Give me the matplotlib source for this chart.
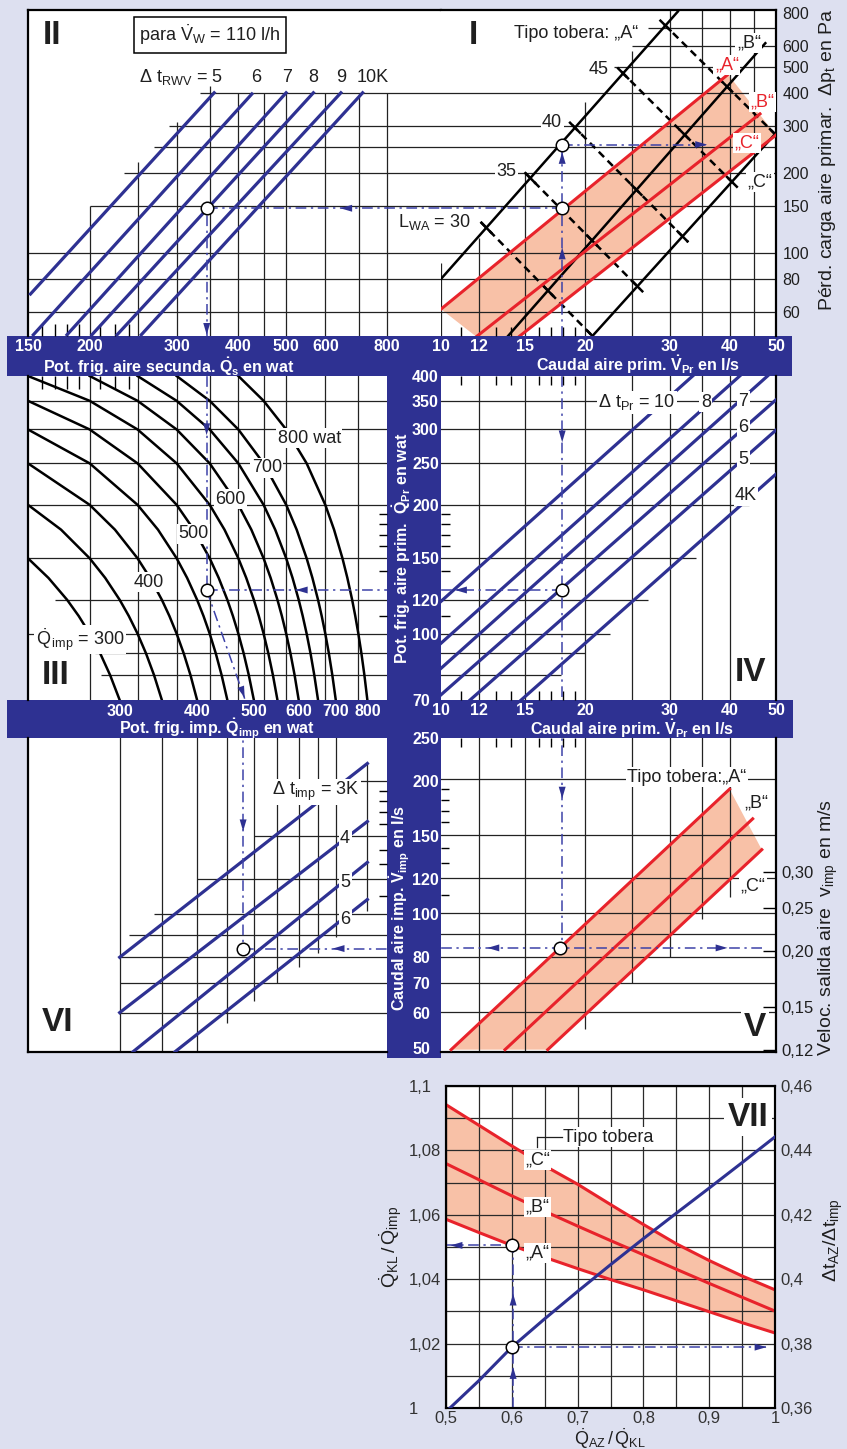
import numpy as np
import matplotlib
matplotlib.use('Agg')
import matplotlib.pyplot as plt
from matplotlib.patches import Rectangle, Polygon
from matplotlib.ticker import NullFormatter

plt.rcParams['font.family'] = ['Liberation Sans', 'DejaVu Sans']
plt.rcParams['mathtext.fontset'] = 'custom'
plt.rcParams['mathtext.rm'] = 'Liberation Sans'
plt.rcParams['mathtext.it'] = 'Liberation Sans:italic'
plt.rcParams['mathtext.bf'] = 'Liberation Sans:bold'
plt.rcParams['mathtext.default'] = 'regular'

W, H = 847, 1449
BG = '#dde0f0'
NAVY = '#2e3192'
RED = '#e8232b'
SALMON = '#f8c1a7'
DD = '#3d42a8'
INK = '#1f1f1f'
GRID = '#222222'

# ---------------- values ----------------
qs_ticks = [150, 200, 300, 400, 500, 600, 800]
qs_minor = [160, 170, 180, 190, 210, 225, 240]
v_ticks = [10, 12, 15, 20, 30, 40, 50]
v_minor = [11, 13, 14, 16, 17, 18, 19]
dp_ticks = [60, 80, 100, 150, 200, 300, 400, 500, 600, 800]
qpr_ticks = [70, 100, 120, 150, 200, 250, 300, 350, 400]
qpr_minor = [110, 140, 160, 170, 180, 190]
qimp_ticks = [300, 400, 500, 600, 700, 800]
vimp_ticks = [50, 60, 70, 80, 100, 120, 150, 200, 250]
vimp_minor = [110, 130, 140, 160, 170, 180, 190]
vel_ticks = [0.12, 0.15, 0.20, 0.25, 0.30]
vel_labels = ['0,12', '0,15', '0,20', '0,25', '0,30']

# II  dt_RWV lines: Qs [W] vs dp [Pa]
rwv_names = ['5', '6', '7', '8', '9', '10K']
rwv_qs = [(151, 359), (153, 428), (179, 502), (201, 570), (226, 648), (253, 717)]
rwv_dp = [(69.5, 405), (48.8, 401), (48.8, 405), (48.8, 405), (48.8, 405), (48.8, 405)]

# I  nozzle types: V_Pr [l/s] vs dp [Pa]
tob_v = [(10, 31.2), (13.8, 47.5), (20.7, 50)]
tob_dp = [(80, 810), (48.8, 616), (48.8, 283)]
tobr_v = [(10, 39.7), (11.9, 46.3), (14.6, 50)]
tobr_dp = [(61.6, 470), (48.8, 334), (48.8, 278)]
band1_v = [10, 39.7, 50, 14.6, 11.8]
band1_dp = [61.6, 470, 278, 48.8, 48.8]
lwa_v = [(29.2, 50), (23.8, 41.0), (18.8, 32.8), (15.0, 26.0), (12.1, 20.7)]
lwa_dp = [(726, 278), (481, 181), (303, 110), (200, 73.4), (131, 48.8)]

# III  Q_imp curves: Qs read at each Q_Pr row
qpr_rows = [400, 350, 300, 250, 200, 175, 150, 135, 120, 110, 100, 90, 80, 70]
qimp_levels = [300, 350, 400, 450, 500, 550, 600, 650, 700, 800]
qimp_qs = [
    [None, None, None, None, None, None, 150, 165, 180, 190, 200, 210, 220, 230],
    [None, None, None, None, 150, 175, 200, 215, 230, 240, 250, 260, 270, 280],
    [None, None, None, 150, 200, 225, 250, 265, 280, 290, 300, 310, 320, 330],
    [None, None, 150, 200, 250, 275, 300, 315, 330, 340, 350, 360, 370, 380],
    [None, 150, 200, 250, 300, 325, 350, 365, 380, 390, 400, 410, 420, 430],
    [150, 200, 250, 300, 350, 375, 400, 415, 430, 440, 450, 460, 470, 480],
    [200, 250, 300, 350, 400, 425, 450, 465, 480, 490, 500, 510, 520, 530],
    [250, 300, 350, 400, 450, 475, 500, 515, 530, 540, 550, 560, 570, 580],
    [300, 350, 400, 450, 500, 525, 550, 565, 580, 590, 600, 610, 620, 630],
    [400, 450, 500, 550, 600, 625, 650, 665, 680, 690, 700, 710, 720, 730],
]

# IV  dt_Pr lines: V_Pr vs Q_Pr
dtpr_names = ['10', '8', '7', '6', '5', '4K']
dtpr_v = [(10, 33.5), (10, 42), (10, 48), (10, 50), (11.5, 50), (14.7, 50)]
dtpr_q = [(119, 400), (95, 400), (83, 400), (72, 352), (70, 299), (70, 236)]

# V  nozzle types: V_Pr vs V_imp
tobv_v = [(10.5, 40), (13.6, 44.7), (16.7, 46.7)]
tobv_vimp = [(49.5, 190), (49.5, 163), (49.5, 139)]
band5_v = [10.5, 40, 46.7, 16.7]
band5_vimp = [49.5, 190, 139, 49.5]

# VI  dt_imp lines: Q_imp vs V_imp
dtimp_names = ['3K', '4', '5', '6']
dtimp_q = [(300, 800), (300, 800), (315, 800), (368, 800)]
dtimp_vimp = [(80, 219), (60, 162), (49, 131), (49, 108)]

# VII
ratio = [0.5, 0.55, 0.6, 0.65, 0.7, 0.75, 0.8, 0.85, 0.9, 0.95, 1.0]
qkl_a = [1.0586, 1.0545, 1.0505, 1.0468, 1.0433, 1.0399, 1.0367, 1.0333, 1.0299, 1.0265, 1.0233]
qkl_b = [1.0759, 1.0709, 1.0659, 1.0611, 1.0565, 1.0520, 1.0476, 1.0431, 1.0387, 1.0344, 1.0301]
qkl_c = [1.0942, 1.0878, 1.0814, 1.0752, 1.0695, 1.0632, 1.0570, 1.0510, 1.0458, 1.0410, 1.0367]
dtr_x = [0.506, 0.55, 0.6, 0.65, 0.7, 0.75, 0.8, 0.85, 0.9, 0.95, 1.0]
dtr = [0.36, 0.3685, 0.3789, 0.3877, 0.3962, 0.4045, 0.4126, 0.4205, 0.4283, 0.4362, 0.4442]

# worked example
ex_qs, ex_dp_a, ex_dp_b = 345, 147.5, 256
ex_v, ex_qpr, ex_qimp, ex_vimp = 17.9, 126.5, 479, 83.7
ex_ratio, ex_qkl, ex_dtr = 0.6, 1.0505, 0.3789

# partial grid lines (value, from, to)
grid_II_h = [(400, 335, 1100), (300, 290, 1100), (250, 270, 1100), (200, 235, 1100),
             (150, 200, 1100), (100, 140, 1100), (80, 140, 1100), (60, 140, 1100)]
grid_II_v = [(200, 40, 150), (250, 40, 220), (300, 40, 312), (350, 40, 425), (400, 40, 400),
             (450, 40, 400), (500, 40, 400), (600, 40, 400), (700, 40, 400), (800, 40, 400)]
grid_I_h = [(700, 27, 60), (600, 25, 60), (500, 23, 60), (400, 9, 60), (300, 9, 60), (250, 9, 60),
            (200, 9, 60), (150, 9, 60), (100, 9, 60), (80, 9, 60), (60, 9, 60)]
grid_I_v = [(10.02, 40, 92), (12, 40, 114), (15, 40, 200), (20, 40, 370), (25, 40, 575),
            (30, 40, 900), (35, 40, 900), (40, 40, 900), (45, 40, 900)]
grid_III_h = [(350, 140, 900), (300, 140, 900), (250, 140, 900), (200, 140, 900), (150, 140, 900),
              (120, 170, 900), (100, 140, 900), (90, 205, 900), (80, 211, 900)]
grid_III_v = [200, 250, 300, 350, 400, 450, 500, 600, 700]
grid_IV_h = [(350, 9, 60), (300, 9, 60), (250, 9, 60), (200, 9, 44), (150, 9, 34),
             (120, 9, 27), (100, 9, 22.5), (90, 9, 20), (80, 9, 17.8)]
grid_IV_v = [12, 15, 20, 25, 30, 35, 40]
grid_V_h = [200, 150, 120, 100, 90, 80, 70, 60]
grid_V_v = [(12, 40, 300), (15, 40, 300), (20, 55, 300), (25, 70, 300), (30, 80, 300),
            (35, 97, 300), (40, 109, 300)]
grid_VI_h = [(200, 670, 900), (150, 500, 900), (120, 400, 900), (100, 340, 900), (90, 310, 900),
             (80, 300, 900), (70, 300, 900), (60, 300, 900)]
grid_VI_v = [(300, 40, 300), (350, 40, 300), (400, 40, 300), (450, 57, 300), (500, 63.7, 300),
             (550, 70, 300), (600, 76, 300), (650, 82, 300), (700, 89, 300), (800, 102, 219)]

# ---------------- drawing ----------------
fig = plt.figure(figsize=(W / 100, H / 100), dpi=100)
fig.patch.set_facecolor(BG)


def px_axes(x0, y0, x1, y1):
    return fig.add_axes([x0 / W, 1 - y1 / H, (x1 - x0) / W, (y1 - y0) / H])


def prep(ax, xlim, ylim, spines, xscale='log'):
    if xscale == 'log':
        ax.set_xscale('log')
    ax.set_yscale('log')
    ax.set_xlim(*xlim)
    ax.set_ylim(*ylim)
    ax.set_facecolor('white')
    for k, s in ax.spines.items():
        s.set_visible(k in spines)
        s.set_linewidth(1.6)
        s.set_color('black')
    ax.set_xticks([])
    ax.set_xticks([], minor=True)
    ax.set_yticks([])
    ax.set_yticks([], minor=True)
    ax.xaxis.set_minor_formatter(NullFormatter())
    ax.yaxis.set_minor_formatter(NullFormatter())
    ax.tick_params(which='both', length=0)


def hgrid(ax, rows):
    for y, x0, x1 in rows:
        ax.hlines(y, x0, x1, colors=GRID, lw=0.9, zorder=1.5)


def vgrid(ax, cols):
    for x, y0, y1 in cols:
        ax.vlines(x, y0, y1, colors=GRID, lw=0.9, zorder=1.5)


def dd(ax, xs, ys):
    ax.plot(xs, ys, color=DD, lw=1.1, ls=(0, (7, 3, 1.5, 3)), zorder=4)


def arrow(ax, tip, off):
    ax.annotate('', xy=tip, xytext=off, textcoords='offset points',
                arrowprops=dict(arrowstyle='-|>,head_length=0.85,head_width=0.25',
                                mutation_scale=10, color=NAVY, lw=0,
                                shrinkA=0, shrinkB=0), zorder=5)


def circ(ax, x, y):
    ax.plot([x], [y], 'o', ms=9, mfc='white', mec='black', mew=1.1, zorder=6)


def lab(ax, x, y, s, size=13, color=INK, ha='center', box=True, **kw):
    bb = dict(boxstyle='square,pad=0.08', fc='white', ec='none') if box else None
    ax.text(x, y, s, fontsize=size, color=color, ha=ha, va='center', bbox=bb,
            zorder=5, **kw)


def roman(ax, x, y, s, box=False):
    bb = dict(boxstyle='square,pad=0.1', fc='white', ec='none') if box else None
    ax.text(x, y, s, fontsize=24, fontweight='bold', color=INK, ha='center',
            va='center', bbox=bb, zorder=5)


def crossing_ticks(ax, dashed_v, dashed_dp, solid_v, solid_dp, half=7):
    # short solid strokes where a dashed L_WA line meets a nozzle line
    for (a0, a1), (b0, b1) in zip(dashed_v, dashed_dp):
        p0 = np.log10([a0, b0]); p1 = np.log10([a1, b1])
        for (c0, c1), (e0, e1) in zip(solid_v, solid_dp):
            q0 = np.log10([c0, e0]); q1 = np.log10([c1, e1])
            m = np.column_stack([p1 - p0, -(q1 - q0)])
            if abs(np.linalg.det(m)) < 1e-12:
                continue
            t, s = np.linalg.solve(m, q0 - p0)
            if -0.03 <= t <= 1.03 and -0.03 <= s <= 1.03:
                cx = 10 ** (p0 + t * (p1 - p0))
                d0 = ax.transData.transform((a0, b0))
                d1 = ax.transData.transform((a1, b1))
                u = (d1 - d0) / np.hypot(*(d1 - d0))
                c = ax.transData.transform(cx)
                ends = ax.transData.inverted().transform([c - u * half, c + u * half])
                ax.plot(ends[:, 0], ends[:, 1], color='black', lw=1.8, zorder=2.6)


white_bold = dict(color='white', fontweight='bold', fontsize=11.5)

# navy bars
for x0, y0, x1, y1 in [(7, 336, 792, 376), (7, 700, 793, 738), (387, 336, 441, 1058)]:
    fig.add_artist(Rectangle((x0 / W, 1 - y1 / H), (x1 - x0) / W, (y1 - y0) / H,
                             transform=fig.transFigure, fc=NAVY, ec='none', zorder=-1))

# ---- II ----
ax2 = px_axes(28, 10, 441, 336)
prep(ax2, (150, 1028), (48.8, 821), ('top', 'left'))
hgrid(ax2, grid_II_h)
vgrid(ax2, grid_II_v)
ax2.set_xticks(qs_ticks, [str(t) for t in qs_ticks], **white_bold)
ax2.set_xticks(qs_minor, minor=True)
ax2.tick_params(axis='x', which='major', length=0, pad=2)
ax2.tick_params(axis='x', which='minor', direction='in', length=9, width=1, color='black')
for (q0, q1), (d0, d1) in zip(rwv_qs, rwv_dp):
    ax2.plot([q0, q1], [d0, d1], color=NAVY, lw=2.3, solid_capstyle='butt', zorder=3)
ax2.text(372, 459, 'Δ t$_{RWV}$ = 5', fontsize=13, color=INK, ha='right', va='center')
for name, q in zip(rwv_names[1:], [434, 501, 566, 647, 748]):
    ax2.text(q, 459, name, fontsize=13, color=INK, ha='center', va='center')
roman(ax2, 168, 661, 'II')
ax2.text(350, 661, 'para $\\dot{V}_W$ = 110 l/h', fontsize=13, color=INK, ha='center', va='center',
         bbox=dict(boxstyle='square,pad=0.3', fc='white', ec='black', lw=1.1))
dd(ax2, [ex_qs, 1100], [ex_dp_a, ex_dp_a])
dd(ax2, [ex_qs, ex_qs], [40, ex_dp_a])
circ(ax2, ex_qs, ex_dp_a)
arrow(ax2, (643, ex_dp_a), (9, 0))
arrow(ax2, (ex_qs, 49.3), (0, 9))

# ---- I ----
ax1 = px_axes(441, 10, 776, 336)
prep(ax1, (10, 50), (48.8, 821), ('top', 'right'))
ax1.add_patch(Polygon(list(zip(band1_v, band1_dp)), closed=True, fc=SALMON, ec='none', zorder=1))
hgrid(ax1, grid_I_h)
vgrid(ax1, grid_I_v)
ax1.set_xticks(v_ticks, [str(t) for t in v_ticks], **white_bold)
ax1.set_xticks(v_minor, minor=True)
ax1.tick_params(axis='x', which='major', length=0, pad=2)
ax1.tick_params(axis='x', which='minor', direction='in', length=6.5, width=1, color='black')
ax1.yaxis.tick_right()
ax1.set_yticks(dp_ticks, [str(t) for t in dp_ticks], fontsize=11.5, color=INK)
ax1.tick_params(axis='y', which='major', length=0, pad=4.5)
for (v0, v1), (d0, d1) in zip(lwa_v, lwa_dp):
    ax1.plot([v0, v1], [d0, d1], color='black', lw=1.8, ls=(0, (3, 2)), zorder=2.5)
for (v0, v1), (d0, d1) in zip(tob_v, tob_dp):
    ax1.plot([v0, v1], [d0, d1], color='black', lw=1.8, zorder=2.6)
crossing_ticks(ax1, lwa_v, lwa_dp, tob_v, tob_dp)
for (v0, v1), (d0, d1) in zip(tobr_v, tobr_dp):
    ax1.plot([v0, v1], [d0, d1], color=RED, lw=2.2, zorder=2.7)
roman(ax1, 11.7, 660, 'I')
lab(ax1, 19.1, 672, 'Tipo tobera: „A“')
lab(ax1, 43.9, 617, '„B“')
lab(ax1, 46.3, 185, '„C“')
lab(ax1, 39.5, 509, '„A“', color=RED)
lab(ax1, 46.9, 371, '„B“', color=RED)
lab(ax1, 43.5, 260, '„C“', color=RED)
lab(ax1, 21.3, 489, '45')
lab(ax1, 17.05, 309, '40')
lab(ax1, 13.67, 202, '35')
lab(ax1, 9.71, 131, 'L$_{WA}$ = 30', clip_on=False)
dd(ax1, [9, ex_v], [ex_dp_a, ex_dp_a])
dd(ax1, [ex_v, ex_v], [40, ex_dp_b])
dd(ax1, [ex_v, 35.9], [ex_dp_b, ex_dp_b])
circ(ax1, ex_v, ex_dp_a)
circ(ax1, ex_v, ex_dp_b)
arrow(ax1, (ex_v, 105), (0, -9))
arrow(ax1, (ex_v, 240), (0, -9))
arrow(ax1, (35.9, ex_dp_b), (-9, 0))

# ---- III ----
ax3 = px_axes(28, 376, 387, 700)
prep(ax3, (150, 800), (70, 400), ('left',))
hgrid(ax3, grid_III_h)
for q in grid_III_v:
    ax3.axvline(q, color=GRID, lw=0.9, zorder=1.5)
ax3.xaxis.set_ticks_position('top')
ax3.set_xticks(qs_minor, minor=True)
ax3.tick_params(axis='x', which='minor', direction='in', length=9, width=1, color='black')
ax3.yaxis.tick_right()
ax3.set_yticks(qpr_ticks, [str(t) for t in qpr_ticks], **white_bold)
ax3.set_yticks(qpr_minor, minor=True)
ax3.tick_params(axis='y', which='major', length=0, pad=18)
ax3.tick_params(axis='y', which='minor', direction='in', length=6, width=1, color='black')
for row in qimp_qs:
    ax3.plot(np.array(row, dtype=float), qpr_rows, color='black', lw=1.8, zorder=3)
lab(ax3, 191, 97, '$\\dot{Q}_{\\,imp}$ = 300')
lab(ax3, 264, 132, '400')
lab(ax3, 325, 171, '500')
lab(ax3, 385, 206, '600')
lab(ax3, 457, 244, '700')
lab(ax3, 557, 286, '800 wat')
roman(ax3, 171, 80, 'III')
dd(ax3, [ex_qs, ex_qs], [450, ex_qpr])
dd(ax3, [ex_qs, 900], [ex_qpr, ex_qpr])
dd(ax3, [ex_qs, 412], [ex_qpr, 70.5])
circ(ax3, ex_qs, ex_qpr)
arrow(ax3, (ex_qs, 291), (0, 9))
arrow(ax3, (523, ex_qpr), (9, 0))
arrow(ax3, (412, 70.8), (-3, 8.5))

# ---- IV ----
ax4 = px_axes(441, 376, 776, 700)
prep(ax4, (10, 50), (70, 400), ('right',))
hgrid(ax4, grid_IV_h)
for v in grid_IV_v:
    ax4.axvline(v, color=GRID, lw=0.9, zorder=1.5)
ax4.set_xticks(v_ticks, [str(t) for t in v_ticks], **white_bold)
ax4.set_xticks(v_minor, minor=True)
ax4.tick_params(axis='x', which='major', length=0, pad=2)
ax4.tick_params(axis='x', which='minor', top=True, bottom=True, direction='in',
                length=6.5, width=1, color='black')
ax4.set_yticks(qpr_minor, minor=True)
ax4.tick_params(axis='y', which='minor', left=True, right=False, direction='in',
                length=6.5, width=1, color='black')
for (v0, v1), (q0, q1) in zip(dtpr_v, dtpr_q):
    ax4.plot([v0, v1], [q0, q1], color=NAVY, lw=2.3, zorder=3)
ax4.text(30.8, 347, 'Δ t$_{Pr}$ = 10', fontsize=13, color=INK, ha='right', va='center',
         bbox=dict(boxstyle='square,pad=0.08', fc='white', ec='none'), zorder=5)
lab(ax4, 35.7, 347, '8')
lab(ax4, 42.7, 349, '7')
lab(ax4, 42.7, 304, '6')
lab(ax4, 42.7, 255, '5')
lab(ax4, 43.3, 210, '4K')
roman(ax4, 44.2, 81, 'IV')
dd(ax4, [ex_v, ex_v], [450, 60])
dd(ax4, [9, ex_v], [ex_qpr, ex_qpr])
circ(ax4, ex_v, ex_qpr)
arrow(ax4, (ex_v, 280), (0, 9))
arrow(ax4, (10.7, ex_qpr), (9, 0))

# ---- VI ----
ax6 = px_axes(28, 738, 387, 1052)
ax6.set_xscale('function', functions=(lambda q: np.log10(np.maximum(np.asarray(q, float) - 70, 1e-6)),
                                       lambda x: 10 ** np.asarray(x, float) + 70))
prep(ax6, (220, 870), (48.9, 247.4), ('left', 'bottom'), xscale='function')
hgrid(ax6, grid_VI_h)
vgrid(ax6, grid_VI_v)
ax6.xaxis.tick_top()
ax6.set_xticks(qimp_ticks, [str(t) for t in qimp_ticks], **white_bold)
ax6.tick_params(axis='x', which='major', length=0, pad=14)
ax6.yaxis.tick_right()
ax6.set_yticks(vimp_ticks, [str(t) for t in vimp_ticks], **white_bold)
ax6.set_yticks(vimp_minor, minor=True)
ax6.tick_params(axis='y', which='major', length=0, pad=18)
ax6.tick_params(axis='y', which='minor', direction='in', length=5.5, width=1, color='black')
for (q0, q1), (w0, w1) in zip(dtimp_q, dtimp_vimp):
    ax6.plot([q0, q1], [w0, w1], color=NAVY, lw=2.3, zorder=3)
lab(ax6, 644, 189, 'Δ t$_{imp}$ = 3K')
lab(ax6, 728, 148, '4')
lab(ax6, 728, 118, '5')
lab(ax6, 728, 97.5, '6')
roman(ax6, 242, 57, 'VI')
dd(ax6, [ex_qimp, ex_qimp], [300, ex_vimp])
dd(ax6, [ex_qimp, 900], [ex_vimp, ex_vimp])
circ(ax6, ex_qimp, ex_vimp)
arrow(ax6, (ex_qimp, 154), (0, 9))
arrow(ax6, (691, ex_vimp), (9, 0))

# ---- V ----
ax5 = px_axes(441, 738, 776, 1052)
prep(ax5, (10, 50), (48.9, 247.4), ('right', 'bottom'))
ax5v = ax5.twinx()
ax5v.set_yscale('log')
ax5v.set_ylim(48.9 / 412, 247.4 / 412)
for s in ax5v.spines.values():
    s.set_visible(False)
ax5v.set_yticks(vel_ticks, vel_labels, fontsize=12, color=INK)
ax5v.set_yticks([], minor=True)
ax5v.yaxis.set_minor_formatter(NullFormatter())
ax5v.tick_params(axis='y', which='major', direction='in', length=9.5, width=1,
                 color='black', pad=4)
ax5.add_patch(Polygon(list(zip(band5_v, band5_vimp)), closed=True, fc=SALMON, ec='none', zorder=1))
for w in grid_V_h:
    ax5.axhline(w, color=GRID, lw=0.9, zorder=1.5)
vgrid(ax5, grid_V_v)
ax5.set_xticks(v_minor, minor=True)
ax5.tick_params(axis='x', which='minor', top=True, bottom=False, direction='in',
                length=6.5, width=1, color='black')
ax5.set_yticks(vimp_minor, minor=True)
ax5.tick_params(axis='y', which='minor', left=True, right=False, direction='in',
                length=6, width=1, color='black')
for (v0, v1), (w0, w1) in zip(tobv_v, tobv_vimp):
    ax5.plot([v0, v1], [w0, w1], color=RED, lw=2.2, zorder=3)
lab(ax5, 32.6, 202, 'Tipo tobera:„A“')
lab(ax5, 45.5, 177, '„B“')
lab(ax5, 44.7, 115, '„C“')
roman(ax5, 45.2, 55.5, 'V', box=True)
dd(ax5, [ex_v, ex_v], [300, ex_vimp])
dd(ax5, [9, 47.4], [ex_vimp, ex_vimp])
circ(ax5, ex_v - 0.15, ex_vimp)
arrow(ax5, (ex_v, 181), (0, 9))
arrow(ax5, (12.5, ex_vimp), (9, 0))
arrow(ax5, (39.6, ex_vimp), (-9, 0))

# ---- VII ----
ax7 = px_axes(446, 1086, 775, 1408)
ax7.set_facecolor('white')
ax7.set_xlim(0.5, 1.0)
ax7.set_ylim(1.0, 1.1)
ax7.set_xticks([0.5, 0.6, 0.7, 0.8, 0.9, 1.0], ['0,5', '0,6', '0,7', '0,8', '0,9', '1'],
               fontsize=12, color='#333333')
ax7.set_xticks([0.55, 0.65, 0.75, 0.85, 0.95], minor=True)
ax7.set_yticks([1.0, 1.02, 1.04, 1.06, 1.08, 1.1], ['1', '1,02', '1,04', '1,06', '1,08', '1,1'],
               fontsize=12, color='#333333')
ax7.set_yticks([1.01, 1.03, 1.05, 1.07, 1.09], minor=True)
for t in ax7.get_yticklabels():
    t.set_ha('left')
ax7.tick_params(which='both', length=0)
ax7.tick_params(axis='y', pad=27)
ax7.tick_params(axis='x', pad=2.5)
ax7.grid(which='both', color='#2a2a2a', lw=0.9)
for s in ax7.spines.values():
    s.set_linewidth(1.5)
ax7.fill_between(ratio, qkl_a, qkl_c, color=SALMON, lw=0, zorder=1)
for vals in (qkl_a, qkl_b, qkl_c):
    ax7.plot(ratio, vals, color=RED, lw=2.2, zorder=3)
lab(ax7, 0.639, 1.0769, '„C“')
lab(ax7, 0.639, 1.0623, '„B“')
lab(ax7, 0.639, 1.0480, '„A“')
ax7.text(0.678, 1.0841, 'Tipo tobera', fontsize=13, color=INK, ha='left', va='center', zorder=5,
         bbox=dict(boxstyle='square,pad=0.08', fc='white', ec='none'))
ax7.plot([0.638, 0.676], [1.0841, 1.0841], color=INK, lw=0.9, zorder=5)
ax7.plot([0.638, 0.638], [1.0841, 1.0810], color=INK, lw=0.9, zorder=5)
roman(ax7, 0.959, 1.0903, 'VII', box=True)
dd(ax7, [ex_ratio + 0.002, ex_ratio + 0.002], [1.0, ex_qkl])
dd(ax7, [0.5, ex_ratio], [ex_qkl, ex_qkl])
circ(ax7, ex_ratio, ex_qkl)
arrow(ax7, (0.507, ex_qkl), (9, 0))
arrow(ax7, (ex_ratio + 0.002, 1.0127), (0, -9))
arrow(ax7, (ex_ratio + 0.002, 1.0355), (0, -9))

ax7r = ax7.twinx()
ax7r.set_ylim(0.36, 0.46)
ax7r.set_yticks([0.36, 0.38, 0.40, 0.42, 0.44, 0.46], ['0,36', '0,38', '0,4', '0,42', '0,44', '0,46'],
                fontsize=12, color='#333333')
ax7r.tick_params(length=0, pad=4)
for s in ax7r.spines.values():
    s.set_linewidth(1.5)
ax7r.plot(dtr_x, dtr, color=NAVY, lw=2.2, zorder=3)
dd(ax7r, [ex_ratio, 0.987], [ex_dtr, ex_dtr])
circ(ax7r, ex_ratio, ex_dtr)
arrow(ax7r, (0.987, ex_dtr), (-9, 0))

# ---- bar and side titles ----
fig.text(169 / W, 1 - 367 / H, 'Pot. frig. aire secunda. $\\dot{Q}_s$ en wat', ha='center', va='center', **white_bold)
fig.text(638 / W, 1 - 365 / H, 'Caudal aire prim. $\\dot{V}_{Pr}$ en l/s', ha='center', va='center', **white_bold)
fig.text(217 / W, 1 - 729 / H, 'Pot. frig. imp. $\\dot{Q}_{imp}$ en wat', ha='center', va='center', **white_bold)
fig.text(632 / W, 1 - 729 / H, 'Caudal aire prim. $\\dot{V}_{Pr}$ en l/s', ha='center', va='center', **white_bold)
fig.text(402 / W, 1 - 548 / H, 'Pot. frig. aire prim.  $\\dot{Q}_{Pr}$ en wat', rotation=90,
         ha='center', va='center', **white_bold)
fig.text(400 / W, 1 - 908 / H, 'Caudal aire imp. $\\dot{V}_{imp}$ en l/s', rotation=90,
         ha='center', va='center', **white_bold)
fig.text(827 / W, 1 - 160 / H, 'Pérd. carga aire primar.  Δp$_t$ en Pa', rotation=90,
         fontsize=14, color=INK, ha='center', va='center')
fig.text(828 / W, 1 - 927 / H, 'Veloc. salida aire  v$_{imp}$ en m/s', rotation=90,
         fontsize=14, color=INK, ha='center', va='center')
fig.text(391 / W, 1 - 1247 / H, '$\\dot{Q}_{KL}\\,/\\,\\dot{Q}_{imp}$', rotation=90,
         fontsize=14, color=INK, ha='center', va='center')
fig.text(833 / W, 1 - 1240 / H, 'Δt$_{AZ}$/Δt$_{imp}$', rotation=90,
         fontsize=14, color=INK, ha='center', va='center')
fig.text(610 / W, 1 - 1439 / H, '$\\dot{Q}_{AZ}\\,/\\,\\dot{Q}_{KL}$',
         fontsize=13, color=INK, ha='center', va='center')

fig.savefig('out.png', dpi=100, facecolor=BG)
